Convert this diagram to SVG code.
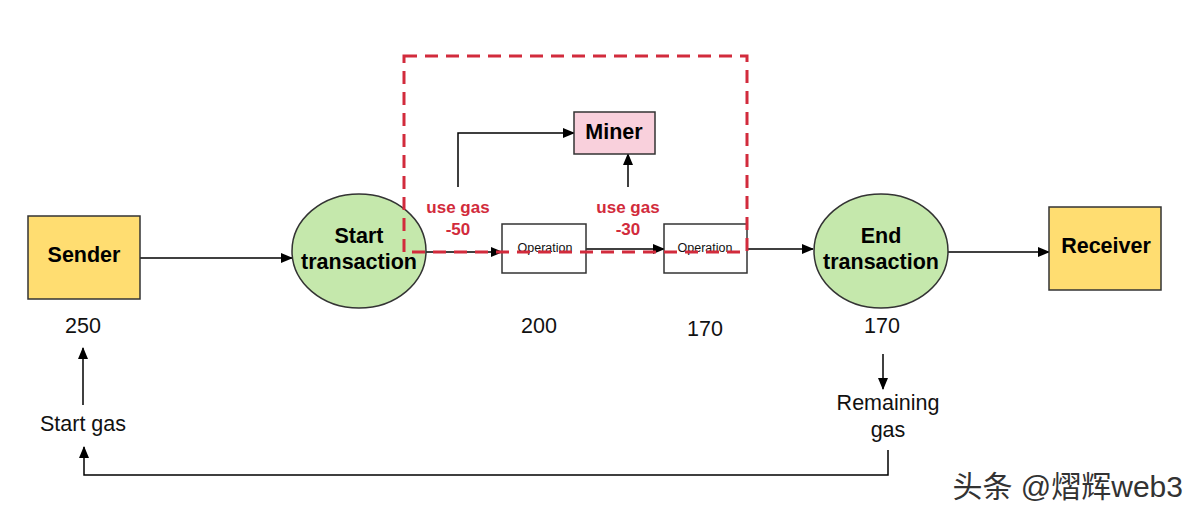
<svg xmlns="http://www.w3.org/2000/svg" width="1200" height="519" viewBox="0 0 1200 519">
<defs>
<marker id="ah" markerWidth="12" markerHeight="10" refX="11" refY="5" orient="auto" markerUnits="userSpaceOnUse">
<path d="M0,0 L12,5 L0,10 z" fill="#000"/>
</marker>
<style>
.box{stroke:#333;stroke-width:1.5}
.y{fill:#FFDD71}
.g{fill:#C5E8AC}
.p{fill:#F9D0DC}
.w{fill:#fff}
.bt{font-family:"Liberation Sans",Arial,sans-serif;font-weight:bold;font-size:21.5px;fill:#000;text-anchor:middle}
.nt{font-family:"Liberation Sans",Arial,sans-serif;font-size:21.5px;fill:#111;text-anchor:middle}
.op{font-family:"Liberation Sans",Arial,sans-serif;font-size:12.5px;fill:#111;text-anchor:middle}
.rt{font-family:"Liberation Sans",Arial,sans-serif;font-weight:bold;font-size:17px;fill:#D22B3C;text-anchor:middle}
.ln{fill:none;stroke:#000;stroke-width:1.5}
</style>
</defs>
<rect width="1200" height="519" fill="#fff"/>
<g id="connectors">
<path class="ln" d="M140,258 H292" marker-end="url(#ah)"/>
<path class="ln" d="M426,252 H502" marker-end="url(#ah)"/>
<path class="ln" d="M586,249 H664" marker-end="url(#ah)"/>
<path class="ln" d="M747,249 H813" marker-end="url(#ah)"/>
<path class="ln" d="M948,252 H1049" marker-end="url(#ah)"/>
<path class="ln" d="M458,187 V133 H574" marker-end="url(#ah)"/>
<path class="ln" d="M628,187 V154" marker-end="url(#ah)"/>
<path class="ln" d="M883,354 V389" marker-end="url(#ah)"/>
<path class="ln" d="M83,405 V348" marker-end="url(#ah)"/>
<path class="ln" d="M888,450 V475 H84 V447" marker-end="url(#ah)"/>
</g>
<g id="sender">
<rect class="box y" x="28" y="216" width="112" height="83"/>
<text class="bt" x="84" y="262">Sender</text>
<text class="nt" x="83" y="333">250</text>
</g>
<g id="start">
<ellipse class="box g" cx="359" cy="251" rx="67" ry="57"/>
<text class="bt" x="359" y="243">Start</text>
<text class="bt" x="359" y="269">transaction</text>
</g>
<g id="op1">
<rect class="box w" x="502" y="224" width="84" height="49"/>
<text class="op" x="545" y="252">Operation</text>
<text class="nt" x="539" y="333">200</text>
</g>
<g id="op2">
<rect class="box w" x="664" y="224" width="83" height="49"/>
<text class="op" x="705" y="252">Operation</text>
<text class="nt" x="705" y="336">170</text>
</g>
<g id="miner">
<rect class="box p" x="574" y="112" width="81" height="42"/>
<text class="bt" x="614" y="139">Miner</text>
</g>
<g id="end">
<ellipse class="box g" cx="881" cy="251" rx="67" ry="57"/>
<text class="bt" x="881" y="243">End</text>
<text class="bt" x="881" y="269">transaction</text>
<text class="nt" x="882" y="333">170</text>
</g>
<g id="receiver">
<rect class="box y" x="1049" y="207" width="112" height="83"/>
<text class="bt" x="1106" y="253">Receiver</text>
</g>
<g id="labels">
<text class="rt" x="458" y="213">use gas</text>
<text class="rt" x="458" y="235">-50</text>
<text class="rt" x="628" y="213">use gas</text>
<text class="rt" x="628" y="235">-30</text>
<text class="nt" x="888" y="410">Remaining</text>
<text class="nt" x="888" y="437">gas</text>
<text class="nt" x="83" y="431">Start gas</text>
</g>
<g id="gasbox">
<rect x="404" y="56" width="343" height="196" fill="none" stroke="#D22B3C" stroke-width="3" stroke-dasharray="13,8"/>
</g>
<text x="1183" y="497" text-anchor="end" font-family="'Liberation Sans','Noto Sans CJK SC',sans-serif" font-size="30" fill="#333">头条 @熠辉web3</text>
</svg>
